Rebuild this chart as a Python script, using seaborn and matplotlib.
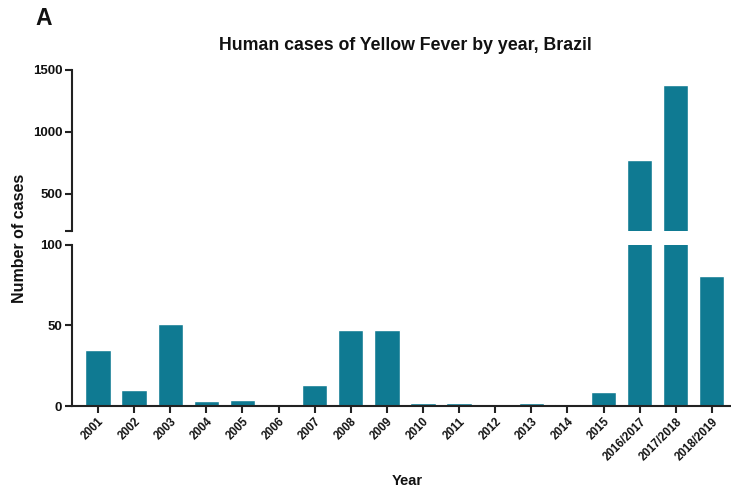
import numpy as np
import pandas as pd
import matplotlib
matplotlib.use('Agg')
import matplotlib.pyplot as plt
import seaborn as sns

sns.set_theme(style='ticks')
plt.rcParams['font.family'] = ['Liberation Sans', 'DejaVu Sans']
plt.rcParams['font.weight'] = 'bold'
plt.rcParams['text.color'] = '#111111'
plt.rcParams['xtick.color'] = '#111111'
plt.rcParams['ytick.color'] = '#111111'

# Data
years = ['2001', '2002', '2003', '2004', '2005', '2006', '2007', '2008', '2009', '2010',
         '2011', '2012', '2013', '2014', '2015', '2016/2017', '2017/2018', '2018/2019']
cases = [35, 10, 51, 3, 4, 1, 13, 47, 47, 2, 2, 0, 2, 1, 9, 777, 1376, 81]

df = pd.DataFrame({'Year': years, 'Cases': cases})
bar_color = '#0f7a92'

fig = plt.figure(figsize=(7.31, 4.88), dpi=100)
left, width = 0.0985, 0.9
ax_top = fig.add_axes([left, 0.5266, width, 0.330])
ax_bot = fig.add_axes([left, 0.168, width, 0.330])

for ax in (ax_top, ax_bot):
    sns.barplot(data=df, x='Year', y='Cases', color=bar_color, width=0.7,
                saturation=1, ax=ax)
    ax.set_xlim(-0.72, len(years) - 0.5)
    ax.set_xlabel('')
    ax.set_ylabel('')
    for side in ('top', 'right'):
        ax.spines[side].set_visible(False)
    for side in ('left', 'bottom'):
        ax.spines[side].set_linewidth(1.5)
        ax.spines[side].set_color('#222222')
    ax.tick_params(axis='both', length=5, width=1.5, color='#222222',
                   labelsize=9.5, pad=2)

# upper (broken) part
ax_top.set_ylim(200, 1500)
ax_top.set_yticks([200, 500, 1000, 1500])
ax_top.set_yticklabels(['', '500', '1000', '1500'], fontweight='bold')
ax_top.spines['bottom'].set_visible(False)
ax_top.tick_params(axis='x', bottom=False, labelbottom=False)

# lower part
ax_bot.set_ylim(0, 100)
ax_bot.set_yticks([0, 50, 100])
ax_bot.set_yticklabels(['0', '50', '100'], fontweight='bold')
ax_bot.set_xticks(range(len(years)))
ax_bot.set_xticklabels(years, rotation=45, ha='right', rotation_mode='anchor',
                       fontsize=8.3, fontweight='bold')

fig.text(0.555, 0.907, 'Human cases of Yellow Fever by year, Brazil',
         ha='center', va='center', fontsize=12.8, fontweight='bold')
fig.text(0.06, 0.962, 'A', ha='center', va='center', fontsize=16.5, fontweight='bold')
fig.text(0.027, 0.512, 'Number of cases', rotation=90, ha='center', va='center',
         fontsize=11.5, fontweight='bold')
fig.text(0.557, 0.014, 'Year', ha='center', va='center', fontsize=10.5,
         fontweight='bold')

fig.savefig('out.png', dpi=100)
